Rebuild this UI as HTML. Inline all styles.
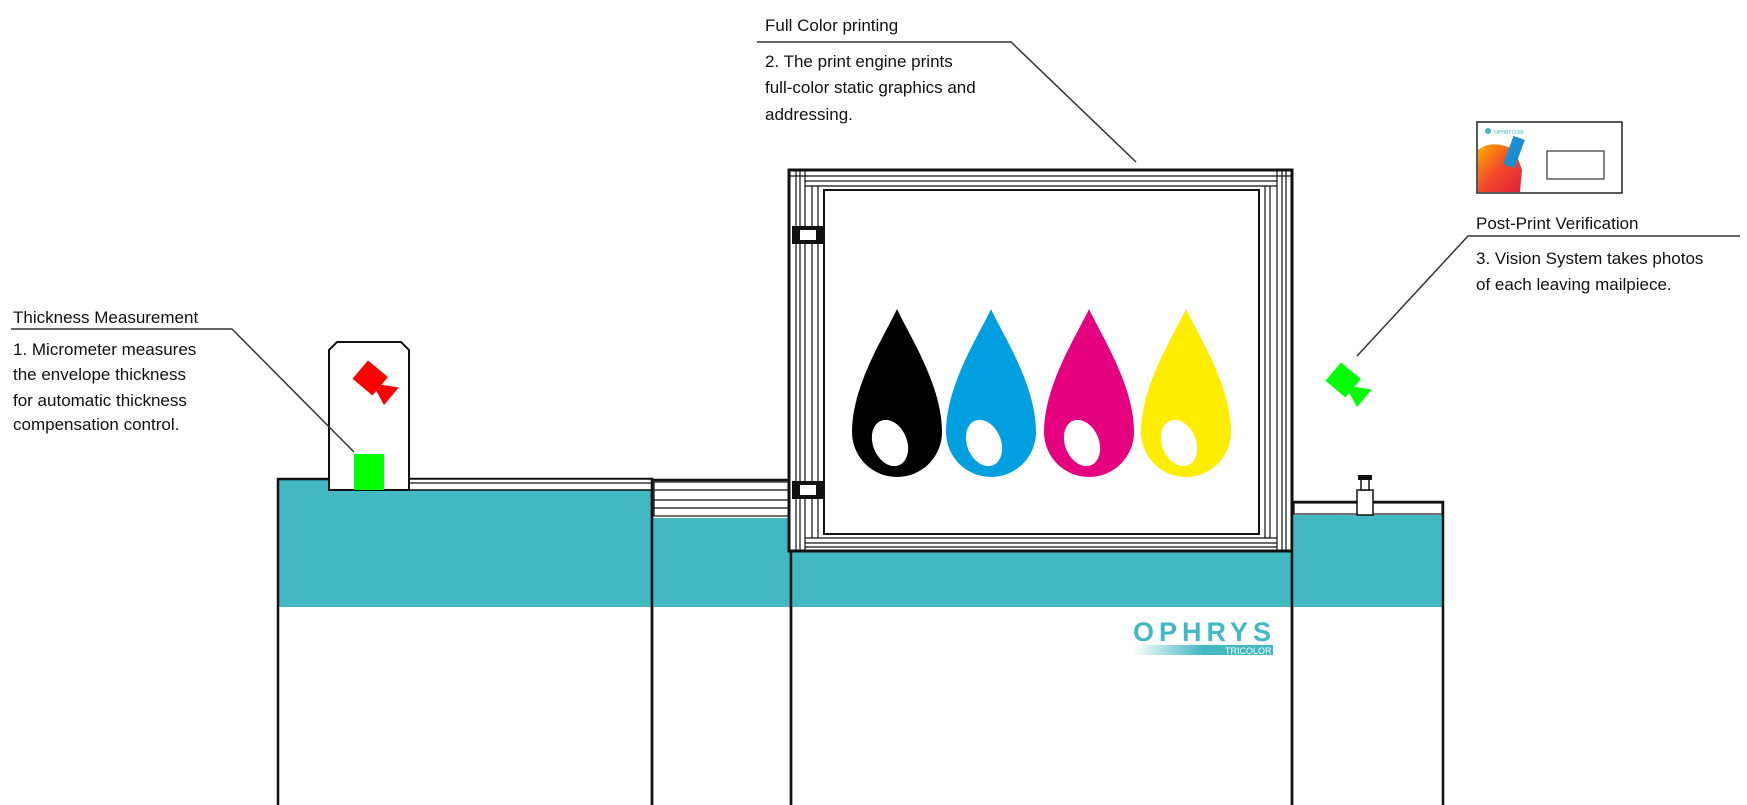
<!DOCTYPE html>
<html><head><meta charset="utf-8"><style>
html,body{margin:0;padding:0;background:#fff;}
svg{display:block;}
text{font-family:"Liberation Sans",sans-serif;fill:#111;}
</style></head><body>
<svg width="1747" height="805" viewBox="0 0 1747 805" xmlns="http://www.w3.org/2000/svg">
<!-- Left block -->
<rect x="278" y="479" width="374" height="128" fill="#42b8c2"/>
<path d="M278,805 V479 H652 V805" fill="none" stroke="#111" stroke-width="2.5"/>
<!-- rails on left block -->
<rect x="409" y="479" width="243" height="11" fill="#fff" stroke="#111" stroke-width="1.5"/>
<line x1="409" y1="483" x2="652" y2="483" stroke="#111" stroke-width="1.2"/>
<!-- micrometer tower -->
<path d="M329,490 V350 L337,342 H401 L409,350 V490 Z" fill="#fff" stroke="#111" stroke-width="2"/>
<rect x="354" y="454" width="30" height="36" fill="#00ff00"/>
<g transform="translate(372,382) rotate(40)">
<rect x="-17" y="-14" width="26" height="24" fill="#ff0000"/>
<polygon points="9,-4 24,-13 24,10 9,4" fill="#ff0000"/>
</g>
<!-- second block -->
<rect x="652" y="518" width="139" height="89" fill="#42b8c2"/>
<path d="M652,805 V480 H791 V805" fill="none" stroke="#111" stroke-width="2.5"/>
<rect x="654" y="482" width="135" height="34" fill="#fff" stroke="#111" stroke-width="1.2"/>
<line x1="654" y1="490" x2="789" y2="490" stroke="#111" stroke-width="1.2"/>
<line x1="654" y1="500" x2="789" y2="500" stroke="#111" stroke-width="1.2"/>
<line x1="654" y1="508" x2="789" y2="508" stroke="#111" stroke-width="1.2"/>
<!-- center block -->
<rect x="791" y="551" width="501" height="56" fill="#42b8c2"/>
<path d="M791,805 V551 H1292 V805" fill="none" stroke="#111" stroke-width="2.5"/>
<!-- print frame -->
<rect x="789" y="170" width="503" height="381" fill="#fff" stroke="#111" stroke-width="3"/>
<rect x="824" y="190" width="435" height="344" fill="#fff" stroke="#111" stroke-width="2"/>
<g fill="none" stroke="#111" stroke-width="1.2">
<line x1="790" y1="176" x2="1291" y2="176"/>
<line x1="805" y1="181" x2="1277" y2="181"/>
<line x1="805" y1="186" x2="1277" y2="186"/>
<line x1="805" y1="538" x2="1277" y2="538"/>
<line x1="805" y1="543" x2="1277" y2="543"/>
<line x1="805" y1="547" x2="1277" y2="547"/>
<line x1="796" y1="171" x2="796" y2="550"/>
<line x1="800" y1="171" x2="800" y2="550"/>
<line x1="805" y1="171" x2="805" y2="550"/>
<line x1="812" y1="186" x2="812" y2="538"/>
<line x1="818" y1="186" x2="818" y2="538"/>
<line x1="1277" y1="171" x2="1277" y2="550"/>
<line x1="1282" y1="171" x2="1282" y2="550"/>
<line x1="1286" y1="171" x2="1286" y2="550"/>
<line x1="1265" y1="186" x2="1265" y2="538"/>
<line x1="1270" y1="186" x2="1270" y2="538"/>
</g>
<g fill="#111">
<rect x="792" y="226" width="32" height="18"/>
<rect x="792" y="481" width="32" height="18"/>
</g>
<g fill="#fff">
<rect x="800" y="230" width="16" height="10"/>
<rect x="800" y="485" width="16" height="10"/>
</g>
<!-- drops -->
<g>
<path d="M897,309 C885,335 852,385 852,432 A45,45 0 0 0 942,432 C942,385 909,335 897,309 Z" fill="#000"/>
<ellipse cx="890" cy="443" rx="17" ry="24" transform="rotate(-22 890 443)" fill="#fff"/>
<path d="M991,309 C979,335 946,385 946,432 A45,45 0 0 0 1036,432 C1036,385 1003,335 991,309 Z" fill="#00a0e0"/>
<ellipse cx="984" cy="443" rx="17" ry="24" transform="rotate(-22 984 443)" fill="#fff"/>
<path d="M1089,309 C1077,335 1044,385 1044,432 A45,45 0 0 0 1134,432 C1134,385 1101,335 1089,309 Z" fill="#e4007f"/>
<ellipse cx="1082" cy="443" rx="17" ry="24" transform="rotate(-22 1082 443)" fill="#fff"/>
<path d="M1186,309 C1174,335 1141,385 1141,432 A45,45 0 0 0 1231,432 C1231,385 1198,335 1186,309 Z" fill="#ffed00"/>
<ellipse cx="1179" cy="443" rx="17" ry="24" transform="rotate(-22 1179 443)" fill="#fff"/>
</g>
<!-- right block -->
<rect x="1292" y="515" width="151" height="92" fill="#42b8c2"/>
<path d="M1292,805 V502 H1443 V805" fill="none" stroke="#111" stroke-width="2.5"/>
<rect x="1294" y="503" width="148" height="11" fill="#fff" stroke="#111" stroke-width="1.2"/>
<rect x="1357" y="490" width="16" height="25" fill="#fff" stroke="#111" stroke-width="1.5"/>
<rect x="1361" y="479" width="8" height="11" fill="#fff" stroke="#111" stroke-width="1.5"/>
<rect x="1358" y="475" width="14" height="5" fill="#111"/>
<!-- green camera -->
<g transform="translate(1345,384) rotate(40)">
<rect x="-17" y="-14" width="26" height="24" fill="#00ff00"/>
<polygon points="9,-4 24,-13 24,10 9,4" fill="#00ff00"/>
</g>
<!-- logo -->
<defs><linearGradient id="g1" x1="0" x2="1"><stop offset="0" stop-color="#42b8c2" stop-opacity="0"/><stop offset="0.5" stop-color="#42b8c2"/><stop offset="1" stop-color="#42b8c2"/></linearGradient>
<linearGradient id="g2" x1="0" y1="0" x2="1" y2="1"><stop offset="0" stop-color="#ffb000"/><stop offset="0.5" stop-color="#f24a2a"/><stop offset="1" stop-color="#e0203a"/></linearGradient></defs>
<text x="1133" y="641" font-size="27" font-weight="bold" style="fill:#42b8c2;letter-spacing:2px" textLength="140">OPHRYS</text>
<rect x="1133" y="645" width="140" height="10" fill="url(#g1)"/>
<text x="1225" y="654" font-size="9" style="fill:#fff">TRICOLOR</text>
<!-- mailpiece -->
<rect x="1477" y="122" width="145" height="71" fill="#fff" stroke="#222" stroke-width="1.5"/>
<path d="M1478,150 C1490,140 1505,145 1515,150 L1522,170 L1520,192 L1478,192 Z" fill="url(#g2)"/>
<rect x="1508" y="137" width="12" height="30" fill="#1a8fd0" transform="rotate(20 1514 152)"/>
<circle cx="1488" cy="131" r="3" fill="#42b8c2"/>
<text x="1494" y="134" font-size="5" style="fill:#42b8c2">OPHRYCOM</text>
<rect x="1547" y="151" width="57" height="28" fill="#fff" stroke="#333" stroke-width="1.2"/>
<!-- callout lines -->
<g fill="none" stroke="#333" stroke-width="1.5">
<polyline points="757,42 1011,42 1136,162"/>
<polyline points="11,329 232,329 354,452"/>
<polyline points="1740,236 1468,236 1357,356"/>
</g>
<!-- texts -->
<text x="765" y="31" font-size="17">Full Color printing</text>
<text x="765" y="67" font-size="17">2.  The print engine prints</text>
<text x="765" y="93" font-size="17">full-color static graphics and</text>
<text x="765" y="120" font-size="17">addressing.</text>
<text x="13" y="323" font-size="17">Thickness Measurement</text>
<text x="13" y="355" font-size="17">1.  Micrometer measures</text>
<text x="13" y="380" font-size="17">the envelope thickness</text>
<text x="13" y="406" font-size="17">for automatic thickness</text>
<text x="13" y="430" font-size="17">compensation control.</text>
<text x="1476" y="229" font-size="17">Post-Print Verification</text>
<text x="1476" y="264" font-size="17">3.  Vision System takes photos</text>
<text x="1476" y="290" font-size="17">of each leaving mailpiece.</text>
</svg>
</body></html>
